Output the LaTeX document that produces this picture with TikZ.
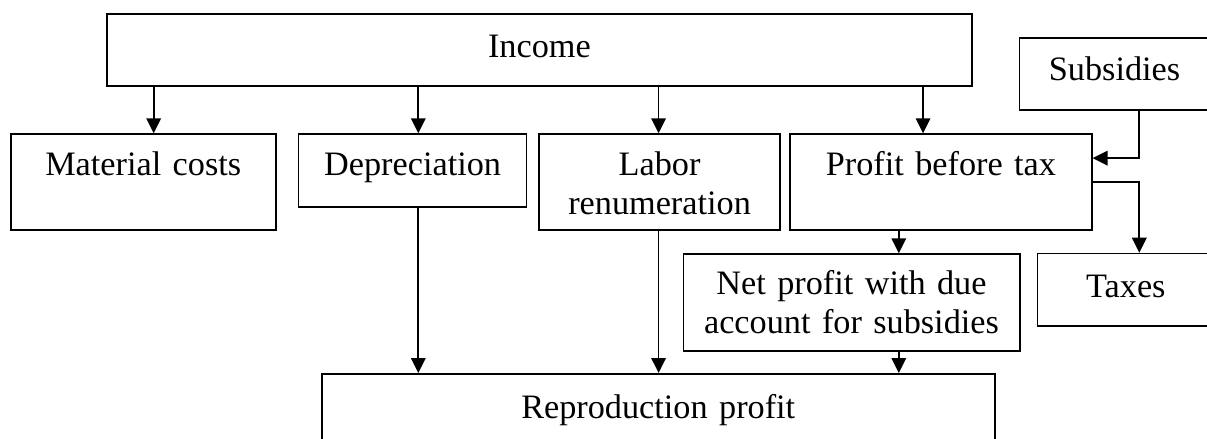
\documentclass[tikz,border=0pt]{standalone}
\usepackage{fontspec}
\setmainfont{Liberation Serif}
\usetikzlibrary{arrows.meta,calc}

\tikzset{
  block/.style={draw, line width=0.7pt, inner sep=0pt, anchor=north west,
    align=center, font=\fontsize{13.7pt}{15.3pt}\selectfont},
  link/.style={line width=0.7pt, -{Triangle[length=6pt,width=5.8pt]}},
}

\begin{document}
\begin{tikzpicture}[x=0.4pt, y=-0.4pt]
    \useasboundingbox (0,0) rectangle (1207,439);
    \clip (0,0) rectangle (1207,439);
    % top row
    \node[block, text width=346pt, text height=17.4pt, text depth=11.4pt] (inc) at (106,13.3) {Income};
    \node[block, text width=76pt, text height=17.1pt, text depth=11.6pt] (sub) at (1018.7,37.3) {Subsidies};
    % second row
    \node[block, text width=105.9pt, text height=16.7pt, text depth=21.7pt] (mat) at (10,133.3) {Material costs};
    \node[block, text width=91.2pt, text height=16.7pt, text depth=12.3pt] (dep) at (297.7,133.3) {Depreciation};
    \node[block, text width=96.3pt, text height=16.7pt, text depth=21.7pt] (lab) at (538.3,133.3) {Labor\\renumeration};
    \node[block, text width=120.6pt, text height=16.7pt, text depth=21.7pt] (pbt) at (789.3,133.3) {Profit before tax};
    % lower part
    \node[block, text width=134.5pt, text height=16.3pt, text depth=22.3pt] (net) at (682.5,253.3) {Net profit with due\\account for subsidies};
    \node[block, text width=70.6pt, text height=17.6pt, text depth=11.3pt] (tax) at (1036.7,252.7) {Taxes};
    \node[block, text width=269.1pt, text height=17.7pt, text depth=18.3pt] (rep) at (321,373) {Reproduction profit};

    \coordinate (c1) at (153.7,0);
    \coordinate (c2) at (418.3,0);
    \coordinate (c3) at (658.6,0);
    \coordinate (c4) at (923,0);
    \coordinate (c5) at (898.8,0);
    \coordinate (c6) at (1139.3,0);

    \foreach \n/\c in {mat/c1, dep/c2, lab/c3, pbt/c4}
      \draw[link] (inc.south -| \c) -- (\n.north -| \c);
    \draw[link] (sub.south -| c6) |- ($(pbt.east)+(0,-24)$);
    \draw[link] (pbt.east) -| (tax.north -| c6);
    \draw[link] (pbt.south -| c5) -- (net.north -| c5);
    \foreach \n/\c in {dep/c2, lab/c3, net/c5}
      \draw[link] (\n.south -| \c) -- (rep.north -| \c);
\end{tikzpicture}
\end{document}
